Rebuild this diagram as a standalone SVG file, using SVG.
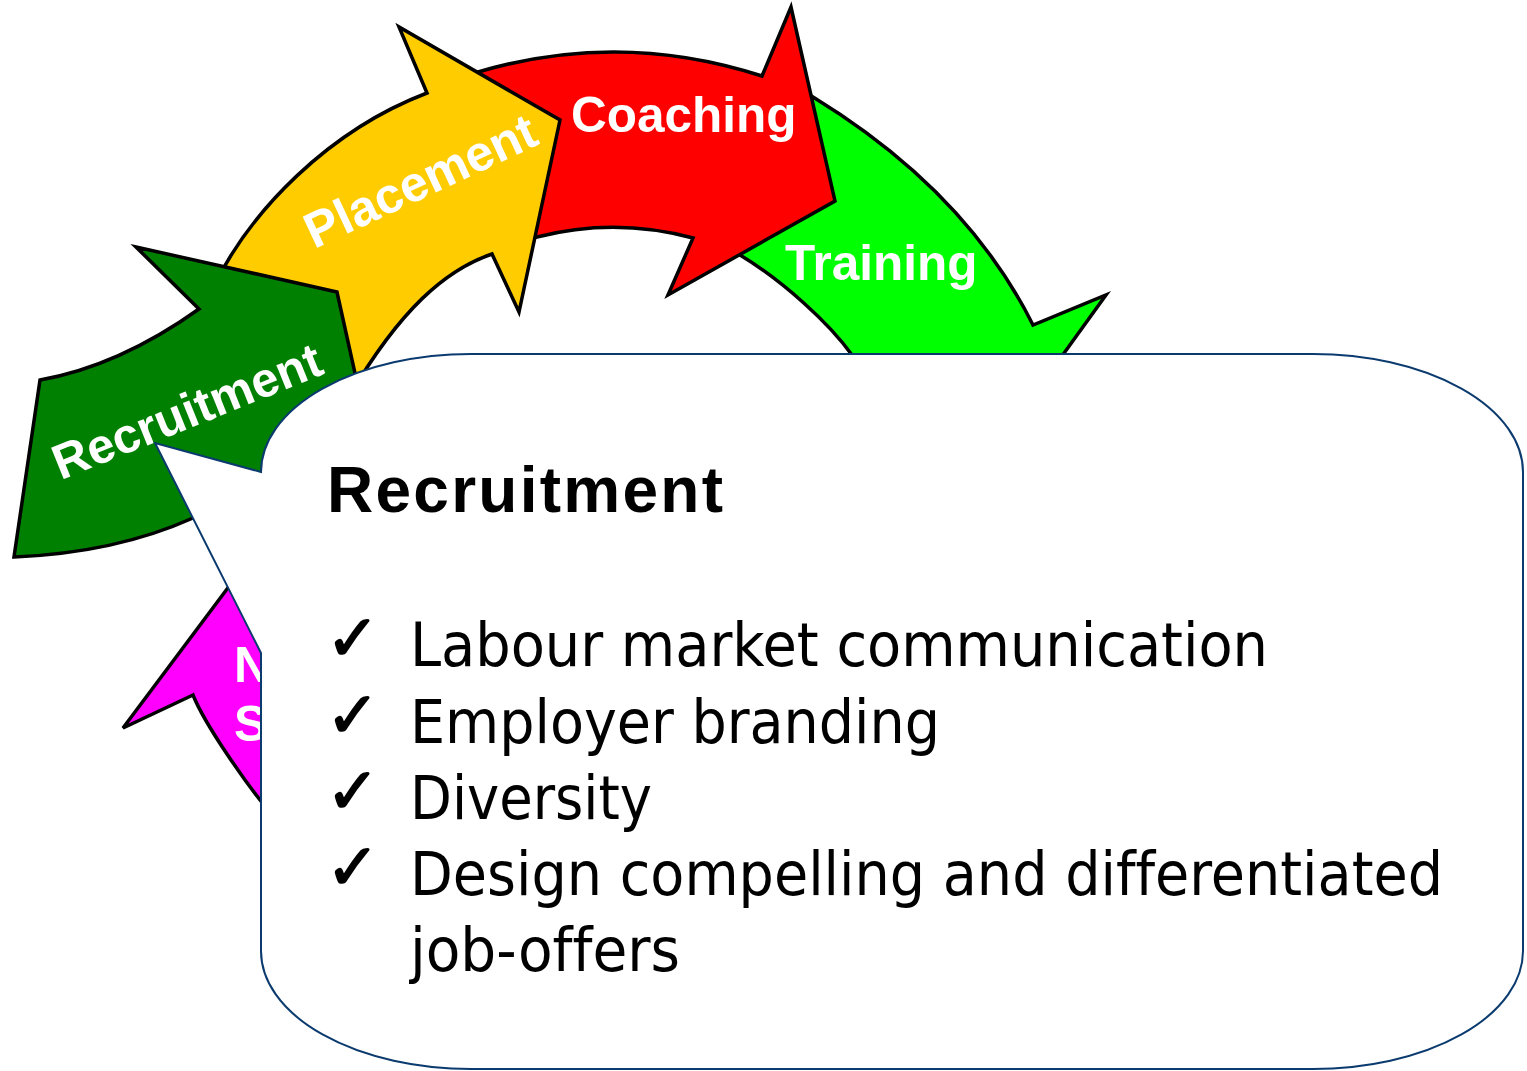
<svg xmlns="http://www.w3.org/2000/svg" width="1527" height="1071" viewBox="0 0 1527 1071">
  <style>
    .arrow { stroke: #000000; stroke-width: 3.5; stroke-linejoin: miter; }
    .lbl { font-family: "Liberation Sans", Arial, sans-serif; font-weight: bold; fill: #ffffff; }
    .title { font-family: "Liberation Sans", Arial, sans-serif; font-weight: bold; fill: #000000; font-size: 64px; }
    .item { font-family: "DejaVu Sans Condensed", "DejaVu Sans", sans-serif; font-stretch: condensed; fill: #000000; font-size: 60px; font-variant-ligatures: none; }
    .check { font-family: "DejaVu Sans", sans-serif; fill: #000000; stroke: #000000; stroke-width: 1.6; font-size: 64px; }
  </style>
  <rect x="0" y="0" width="1527" height="1071" fill="#ffffff"/>

  <g id="training">
    <path class="arrow" fill="#00ff00" d="M813,97 C903,152 983,225 1033,325 L1106,295 L1062,356 L1000,450 L900,420 L852,355 C829,323 783,281 740,255 L790,180 Z"/>
    <text class="lbl" x="785" y="280" font-size="49.5">Training</text>
  </g>

  <g id="coaching">
    <path class="arrow" fill="#ff0000" d="M478,72 Q620,30 762,76 L791,7 L835,201 L668,295 L693,238 Q615,217 537,237 L500,245 L460,80 Z"/>
    <text class="lbl" x="571" y="132" font-size="49.5">Coaching</text>
  </g>

  <g id="placement">
    <path class="arrow" fill="#ffcc00" d="M212,290 C250,210 330,130 427,93 L399,27 L560,120 L519,312 L492,254 C445,270 400,310 350,395 L300,300 Z"/>
    <text class="lbl" transform="translate(420,180) rotate(-25)" x="0" y="18" font-size="50" text-anchor="middle">Placement</text>
  </g>

  <g id="recruitment-arrow">
    <path class="arrow" fill="#008000" d="M136,247 L337,292 L372,450 L260,495 L193,518 Q115,553 14,557 L40,380 Q119,366 199,309 Z"/>
    <text class="lbl" transform="translate(187,411) rotate(-22)" x="0" y="17" font-size="49" text-anchor="middle">Recruitment</text>
  </g>

  <g id="magenta-arrow">
    <path class="arrow" fill="#ff00ff" d="M193,695 L123,728 L245,565 L300,650 L300,840 L272,815 C247,785 205,725 193,695 Z"/>
    <text class="lbl" x="234" y="682" font-size="50">N</text>
    <text class="lbl" x="234" y="741" font-size="50">S</text>
  </g>

  <g id="callout">
    <path fill="#ffffff" stroke="#0a3a6e" stroke-width="2" d="M261,472 L155,443 L261,653 L261,951 A210,118 0 0 0 471,1069 L1313,1069 A210,118 0 0 0 1523,951 L1523,472 A210,118 0 0 0 1313,354 L471,354 A210,118 0 0 0 261,472 Z"/>
    <text class="title" x="327" y="512" textLength="396">Recruitment</text>
    <text class="check" x="326" y="660">✓</text>
    <text class="check" x="326" y="737">✓</text>
    <text class="check" x="326" y="813">✓</text>
    <text class="check" x="326" y="889">✓</text>
    <text class="item" x="410" y="666" textLength="858" lengthAdjust="spacingAndGlyphs">Labour market communication</text>
    <text class="item" x="410" y="743" textLength="530" lengthAdjust="spacingAndGlyphs">Employer branding</text>
    <text class="item" x="410" y="819" textLength="242" lengthAdjust="spacingAndGlyphs">Diversity</text>
    <text class="item" x="410" y="895" textLength="1033" lengthAdjust="spacingAndGlyphs">Design compelling and differentiated</text>
    <text class="item" x="410" y="971" textLength="270" lengthAdjust="spacingAndGlyphs">job-offers</text>
  </g>
</svg>
